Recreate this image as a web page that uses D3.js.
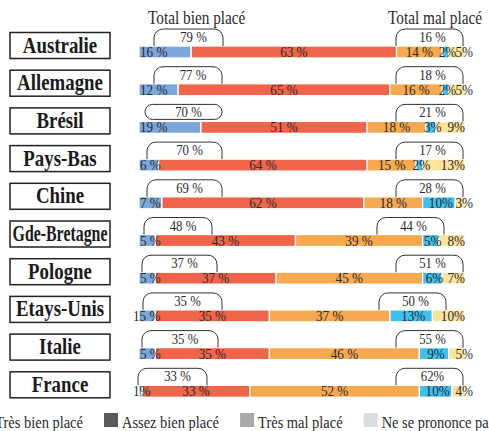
<!DOCTYPE html>
<html>
<head>
<meta charset="utf-8">
<script src="https://cdn.jsdelivr.net/npm/d3@7"></script>
<style>
  body { margin: 0; background: #fff; }
</style>
</head>
<body>
<div id="chart"></div>
<script>
// pays et valeurs (en %)
var countries = ["Australie", "Allemagne", "Brésil", "Pays-Bas", "Chine", "Gde-Bretagne", "Pologne", "Etays-Unis", "Italie", "France"];
var tresBien  = [16, 12, 19, 6, 7, 5, 5, 5, 5, 1];
var assezBien = [63, 65, 51, 64, 62, 43, 37, 35, 35, 33];
var assezMal  = [14, 16, 18, 15, 18, 39, 45, 37, 46, 52];
var tresMal   = [2, 2, 3, 2, 10, 5, 6, 13, 9, 10];
var nsp       = [5, 5, 9, 13, 3, 8, 7, 10, 5, 4];
var totalBien = [79, 77, 70, 70, 69, 48, 37, 35, 35, 33];
var totalMal  = [16, 18, 21, 17, 28, 44, 51, 50, 55, 62];
var legendNames = ["Très bien placé", "Assez bien placé", "Très mal placé", "Ne se prononce pas"];

var keys = ["tb", "ab", "am", "tm", "nsp"];
var colors = { tb: "#7ba7db", ab: "#f0654a", am: "#f6a94f", tm: "#3ec0ef", nsp: "#fde39c" };
var legendColors = ["#333333", "#5a5a5a", "#a9a9ab", "#dcdcdc"];

var width = 489, height = 431;
var sx = 0.85; // police un peu condensée
var serif = "'Liberation Serif', 'Times New Roman', Times, serif";

var svg = d3.select("#chart").append("svg").attr("width", width).attr("height", height);

var rows = countries.map(function(c, i) {
    return { name: c, tb: tresBien[i], ab: assezBien[i], am: assezMal[i], tm: tresMal[i], nsp: nsp[i],
             bien: totalBien[i], mal: totalMal[i] };
});

var x = d3.scaleLinear().domain([0, 100]).range([139, 465]);
var y = d3.scaleBand().domain(countries).range([33.3, 410.3]).paddingInner(0).paddingOuter(0);
var barOff = 12.7, barH = 12;

var stack = d3.stack().keys(keys);
var series = stack(rows);

function stext(sel, px, py, s, size, anchor, scale, weight) {
    var g = sel.append("g").attr("transform", "translate(" + px + "," + py + ") scale(" + scale + ",1)");
    return g.append("text")
        .attr("text-anchor", anchor || "start")
        .attr("font-family", serif)
        .attr("fill", "#2a2a2a")
        .style("font-size", size + "px")
        .style("font-weight", weight || "normal")
        .text(s);
}

// titres
stext(svg, 148, 24, "Total bien placé", 18, "start", sx);
stext(svg, 388, 24, "Total mal placé", 18, "start", sx);

// cadres des pays
rows.forEach(function(d) {
    var top = y(d.name) + barOff;
    svg.append("rect")
        .attr("x", 10).attr("y", top - 13.5)
        .attr("width", 100).attr("height", 26)
        .attr("fill", "#fff").attr("stroke", "#222").attr("stroke-width", 1.5);
    var g = svg.append("g").attr("transform", "translate(60," + (top + 6.5) + ")");
    var t = g.append("text").attr("text-anchor", "middle")
        .attr("font-family", serif).attr("fill", "#1a1a1a")
        .style("font-size", "23px").style("font-weight", "bold")
        .text(d.name);
    var len = t.node().getComputedTextLength();
    var s = Math.min(0.82, 95 / len);
    g.attr("transform", "translate(60," + (top + 6.5) + ") scale(" + s + ",1)");
});

// barres
svg.append("g").selectAll("g")
    .data(series)
    .enter().append("g")
    .attr("fill", function(s) { return colors[s.key]; })
    .selectAll("rect")
    .data(function(s) { return s; })
    .enter().append("rect")
    .attr("x", function(d) { return x(d[0]); })
    .attr("y", function(d) { return y(d.data.name) + barOff; })
    .attr("width", function(d) { return x(d[1]) - x(d[0]); })
    .attr("height", barH)
    .attr("stroke", "#fff")
    .attr("stroke-width", 1.3);

// étiquettes des segments
var labels = svg.append("g");
series.forEach(function(s) {
    s.forEach(function(d) {
        var v = d.data[s.key];
        var base = y(d.data.name) + barOff + 11;
        var x0 = x(d[0]), x1 = x(d[1]);
        if (s.key === "tb") {
            var txt = v + " %", px = x0 + 1;
            if (d.data.name === "Etays-Unis") { txt = "15 %"; px = x0 - 6; }
            if (v < 2) { txt = v + "%"; px = x0 - 6; }
            stext(labels, px, base, txt, 15.5, "start", sx);
        } else if (s.key === "ab" || s.key === "am") {
            stext(labels, (x0 + x1) / 2, base, v + " %", 15.5, "middle", sx);
        } else if (s.key === "tm") {
            stext(labels, (x0 + x1) / 2 + 2, base, v + "%", 15.5, "middle", sx);
        } else {
            stext(labels, x(100) + (v < 6 ? 8 : 0), base, v + "%", 15.5, "end", sx);
        }
    });
});

// accolades des totaux
var leftTweak = { "Australie": [15, 84], "Allemagne": [15, 83], "Brésil": [6, 83], "Gde-Bretagne": [5, 73],
                  "Pologne": [3, 78], "Etays-Unis": [4, 83], "Italie": [3, 79], "France": [-1, 68] };
var rightTweak = { "Gde-Bretagne": -19, "Etays-Unis": -17 };

function bracket(l, r, top, bottom, closed) {
    var rad = 9;
    var p = d3.path();
    if (closed) {
        var h = bottom - top, rr = h / 2;
        p.moveTo(l + rr, top);
        p.lineTo(r - rr, top);
        p.arc(r - rr, top + rr, rr, -Math.PI / 2, Math.PI / 2);
        p.lineTo(l + rr, bottom);
        p.arc(l + rr, top + rr, rr, Math.PI / 2, Math.PI * 1.5);
        p.closePath();
    } else {
        p.moveTo(l, bottom);
        p.lineTo(l, top + rad);
        p.arcTo(l, top, l + rad, top, rad);
        p.lineTo(r - rad, top);
        p.arcTo(r, top, r, top + rad, rad);
        p.lineTo(r, bottom);
    }
    return p.toString();
}

var br = svg.append("g");
rows.forEach(function(d) {
    var barTop = y(d.name) + barOff;
    var lt = leftTweak[d.name] || [8, 83];
    var l = x(0) + lt[0], r = x(0) + lt[1];
    var closed = d.name === "Brésil";
    br.append("path")
        .attr("d", closed ? bracket(l, r, barTop - 17, barTop - 2, true) : bracket(l, r, barTop - 17, barTop, false))
        .attr("fill", "none").attr("stroke", "#333").attr("stroke-width", 1);
    stext(br, (l + r) / 2 + 5, barTop - 4, d.bien + " %", 15, "middle", sx);

    var shift = rightTweak[d.name] || 0;
    var rl = x(100) - 69 + shift, rr = x(100) - 2 + shift;
    br.append("path")
        .attr("d", bracket(rl, rr, barTop - 17, barTop, false))
        .attr("fill", "none").attr("stroke", "#333").attr("stroke-width", 1);
    stext(br, (rl + rr) / 2 + 3, barTop - 4, d.mal + (d.name === "France" ? "%" : " %"), 15, "middle", sx);
});

// légende
var leg = svg.append("g");
var widths = legendNames.map(function(n) {
    var t = leg.append("text").attr("font-family", serif).style("font-size", "17px").text(n);
    var w = t.node().getComputedTextLength() * sx;
    t.remove();
    return w;
});
var lx = 107 - 24 - widths[0] - 18;
legendNames.forEach(function(n, i) {
    leg.append("rect").attr("x", lx).attr("y", 413).attr("width", 14).attr("height", 14)
        .attr("fill", legendColors[i]);
    stext(leg, lx + 18, 428, n, 17, "start", sx);
    lx += 18 + widths[i] + 21;
});
</script>
</body>
</html>
